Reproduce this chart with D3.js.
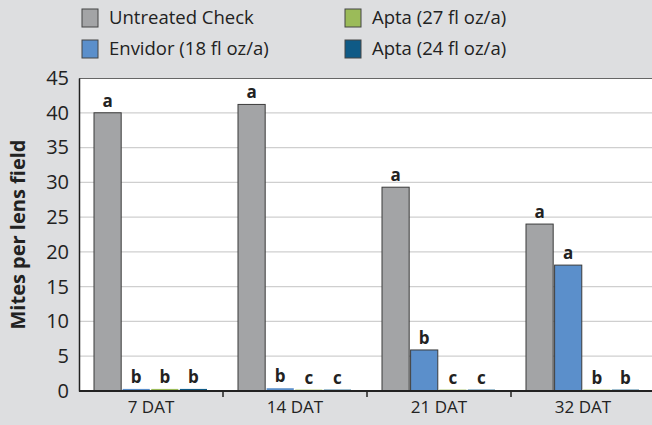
<!DOCTYPE html>
<html>
<head>
<meta charset="utf-8">
<script src="https://cdn.jsdelivr.net/npm/d3@7"></script>
<style>
  body { margin: 0; background: #dddee0; }
  svg { display: block; font-family: "Open Sans", sans-serif; }
</style>
</head>
<body>
<div class="chart"></div>
<script>
const categories = ["7 DAT", "14 DAT", "21 DAT", "32 DAT"];
const seriesNames = ["Untreated Check", "Envidor (18 fl oz/a)", "Apta (27 fl oz/a)", "Apta (24 fl oz/a)"];
const untreated = [40.0, 41.2, 29.3, 24.0];
const envidor = [0.3, 0.4, 5.9, 18.1];
const apta27 = [0.3, 0.2, 0.2, 0.2];
const apta24 = [0.3, 0.2, 0.2, 0.2];
const letters = [
  ["a", "b", "b", "b"],
  ["a", "b", "c", "c"],
  ["a", "b", "c", "c"],
  ["a", "a", "b", "b"]
];
const yTicks = [0, 5, 10, 15, 20, 25, 30, 35, 40, 45];
const colors = ["#a3a4a6", "#5b8fcb", "#9bbb59", "#0f5a86"];

const width = 652;
const height = 425;
const margin = { top: 78, right: -3, bottom: 34, left: 79 };

const svg = d3
  .select(".chart")
  .append("svg")
  .attr("width", width)
  .attr("height", height);

svg.append("rect").attr("width", width).attr("height", height).attr("fill", "#dddee0");

const x = d3
  .scaleBand()
  .domain(categories)
  .range([margin.left, width - margin.right])
  .paddingInner(0)
  .paddingOuter(0);

const xInner = d3
  .scaleBand()
  .domain(d3.range(4))
  .range([15, x.bandwidth() - 16])
  .paddingInner(0.05);

const y = d3
  .scaleLinear()
  .domain([0, 45])
  .range([height - margin.bottom, margin.top]);

// plot background
svg
  .append("rect")
  .attr("x", margin.left)
  .attr("y", margin.top)
  .attr("width", width - margin.left - margin.right)
  .attr("height", y(0) - margin.top)
  .attr("fill", "white");

// gridlines
svg
  .append("g")
  .selectAll("line")
  .data(yTicks.filter((d) => d > 0 && d < 45))
  .enter()
  .append("line")
  .attr("x1", margin.left)
  .attr("x2", width)
  .attr("y1", (d) => y(d))
  .attr("y2", (d) => y(d))
  .attr("stroke", "#cfcfcf")
  .attr("stroke-width", 1.2);

// top border
svg
  .append("line")
  .attr("x1", margin.left)
  .attr("x2", width)
  .attr("y1", margin.top + 0.5)
  .attr("y2", margin.top + 0.5)
  .attr("stroke", "#666")
  .attr("stroke-width", 1);

const table = categories.map((c, i) => ({
  cat: c,
  values: [untreated[i], envidor[i], apta27[i], apta24[i]],
  letters: letters[i]
}));

const groups = svg
  .selectAll(".group")
  .data(table)
  .enter()
  .append("g")
  .attr("transform", (d) => "translate(" + x(d.cat) + ",0)");

groups
  .selectAll("rect")
  .data((d) => d.values)
  .enter()
  .append("rect")
  .attr("x", (d, i) => xInner(i))
  .attr("y", (d) => y(d))
  .attr("width", xInner.bandwidth())
  .attr("height", (d) => y(0) - y(d))
  .attr("fill", (d, i) => colors[i])
  .attr("stroke", (d, i) => (d > 1 ? "#3a3a3a" : "none"))
  .attr("stroke-width", 1);

groups
  .selectAll("text")
  .data((d) => d.values.map((v, i) => ({ v: v, l: d.letters[i] })))
  .enter()
  .append("text")
  .attr("x", (d, i) => xInner(i) + xInner.bandwidth() / 2)
  .attr("y", (d) => y(d.v) - 6)
  .attr("text-anchor", "middle")
  .attr("font-size", "17px")
  .attr("font-weight", "bold")
  .attr("fill", "#222")
  .text((d) => d.l);

// y axis
const yAxis = svg
  .append("g")
  .attr("transform", "translate(" + margin.left + ",0)")
  .call(d3.axisLeft(y).tickValues(yTicks).tickSize(0).tickPadding(10));
yAxis.select(".domain").attr("stroke", "#222").attr("stroke-width", 1.5);
yAxis.selectAll("text").attr("font-size", "20px").attr("font-family", "Open Sans").attr("fill", "#222");

// x axis
const xAxis = svg
  .append("g")
  .attr("transform", "translate(0," + y(0) + ")")
  .call(d3.axisBottom(x).tickSize(0).tickPadding(10));
xAxis.select(".domain").remove();
xAxis.selectAll("text").attr("font-size", "17px").attr("font-family", "Open Sans").attr("fill", "#222");

svg
  .append("line")
  .attr("x1", margin.left)
  .attr("x2", width)
  .attr("y1", y(0))
  .attr("y2", y(0))
  .attr("stroke", "#222")
  .attr("stroke-width", 2);

svg
  .append("g")
  .selectAll("line")
  .data(categories.slice(1))
  .enter()
  .append("line")
  .attr("x1", (d) => x(d))
  .attr("x2", (d) => x(d))
  .attr("y1", y(0))
  .attr("y2", y(0) + 6)
  .attr("stroke", "#222")
  .attr("stroke-width", 1.5);

// y label
svg
  .append("text")
  .attr("transform", "translate(25," + (margin.top + y(0)) / 2 + ") rotate(-90)")
  .attr("text-anchor", "middle")
  .attr("font-size", "20px")
  .attr("font-weight", "bold")
  .attr("fill", "#222")
  .text("Mites per lens field");

// legend
const legendPos = [
  [82, 9],
  [82, 40],
  [345, 9],
  [345, 40]
];
const legend = svg
  .selectAll(".legend")
  .data(seriesNames)
  .enter()
  .append("g")
  .attr("transform", (d, i) => "translate(" + legendPos[i][0] + "," + legendPos[i][1] + ")");

legend
  .append("rect")
  .attr("width", 16)
  .attr("height", 18)
  .attr("fill", (d, i) => colors[i])
  .attr("stroke", "#444")
  .attr("stroke-width", 1);

legend
  .append("text")
  .attr("x", 27)
  .attr("y", 15)
  .attr("font-size", "18.5px")
  .attr("fill", "#222")
  .text((d) => d);
</script>
</body>
</html>
